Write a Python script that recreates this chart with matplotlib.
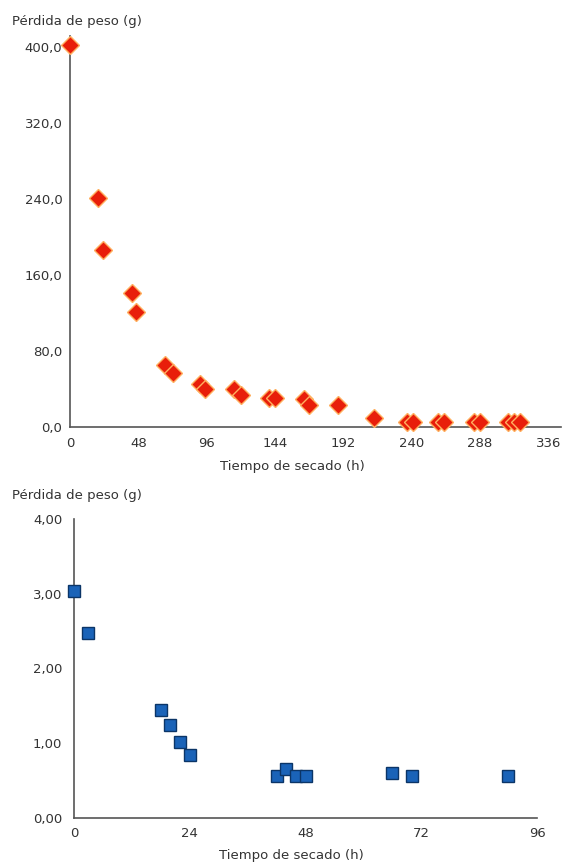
import matplotlib
matplotlib.use("Agg")
import matplotlib.pyplot as plt
from matplotlib.ticker import FixedLocator, FuncFormatter

# ---- data: top chart ----
t_top = [0, 20, 23.5, 43.5, 46.5, 67, 72.5, 91.5, 95, 115.5, 120.5, 140, 144,
         164.5, 168, 188, 213.5, 236.5, 241, 258.5, 263, 284, 288, 308, 312, 316]
w_top = [403, 241, 186, 141.5, 121, 65.5, 57, 45, 40, 40, 33.5, 31, 31,
         29.5, 23, 23, 10, 5, 5, 5, 5, 5, 5, 5, 5, 5]
xticks_top = [0, 48, 96, 144, 192, 240, 288, 336]
yticks_top = [0, 80, 160, 240, 320, 400]

# ---- data: bottom chart ----
t_bot = [0, 3, 18, 20, 22, 24, 42, 44, 46, 48, 66, 70, 90]
w_bot = [3.04, 2.47, 1.44, 1.25, 1.02, 0.84, 0.56, 0.65, 0.56, 0.56, 0.60, 0.56, 0.56]
xticks_bot = [0, 24, 48, 72, 96]
yticks_bot = [0, 1, 2, 3, 4]

ylabel = "Pérdida de peso (g)"
xlabel = "Tiempo de secado (h)"

plt.rcParams['font.family'] = ['DejaVu Sans']
FS = 9.5
TXT = '#333333'
AX = '#555555'

fig = plt.figure(figsize=(5.63, 8.64), dpi=100)

def style(ax, ypad, xpad):
    for s in ['top', 'right']:
        ax.spines[s].set_visible(False)
    for s in ['left', 'bottom']:
        ax.spines[s].set_color(AX)
        ax.spines[s].set_linewidth(1.2)
    ax.tick_params(colors=AX, labelcolor=TXT, labelsize=FS, length=0)
    ax.tick_params(axis='y', pad=ypad)
    ax.tick_params(axis='x', pad=xpad)

def comma(fmt):
    return FuncFormatter(lambda v, p: (fmt % v).replace('.', ','))

# top
L1, B1, R1, T1 = 70, 427, 561, 36
ax1 = fig.add_axes([L1/563, 1-B1/864, (R1-L1)/563, (B1-T1)/864])
style(ax1, 5.5, 7.5)
ax1.plot(t_top, w_top, linestyle='none', marker='D', markersize=8.8,
         markerfacecolor='#e81e0a', markeredgecolor='#ffb060', markeredgewidth=1.0,
         clip_on=False, zorder=3)
ax1.set_xlim(0, 345)
ax1.set_ylim(0, 412)
ax1.xaxis.set_major_locator(FixedLocator(xticks_top))
ax1.yaxis.set_major_locator(FixedLocator(yticks_top))
ax1.yaxis.set_major_formatter(comma('%.1f'))
ax1.set_xlabel(xlabel, fontsize=FS, color=TXT, va='center', ha='center')
ax1.xaxis.set_label_coords((292-L1)/(R1-L1), (B1-466.5)/(B1-T1))
ax1.set_ylabel(ylabel, fontsize=FS, color=TXT, rotation=0, ha='left', va='center')
ax1.yaxis.set_label_coords((12-L1)/(R1-L1), 1+(T1-21.5)/(B1-T1))

# bottom
L2, B2, R2, T2 = 74, 818, 537, 519
ax2 = fig.add_axes([L2/563, 1-B2/864, (R2-L2)/563, (B2-T2)/864])
style(ax2, 8.5, 6.5)
ax2.plot(t_bot, w_bot, linestyle='none', marker='s', markersize=9,
         markerfacecolor='#1a63b8', markeredgecolor='#0b3567', markeredgewidth=1.0,
         clip_on=False, zorder=3)
ax2.set_xlim(0, 96)
ax2.set_ylim(0, 4.0)
ax2.xaxis.set_major_locator(FixedLocator(xticks_bot))
ax2.yaxis.set_major_locator(FixedLocator(yticks_bot))
ax2.yaxis.set_major_formatter(comma('%.2f'))
ax2.set_xlabel(xlabel, fontsize=FS, color=TXT, va='center', ha='center')
ax2.xaxis.set_label_coords((291-L2)/(R2-L2), (B2-855)/(B2-T2))
ax2.set_ylabel(ylabel, fontsize=FS, color=TXT, rotation=0, ha='left', va='center')
ax2.yaxis.set_label_coords((12-L2)/(R2-L2), 1+(T2-496)/(B2-T2))

fig.savefig('out.png', dpi=100, facecolor='white')
